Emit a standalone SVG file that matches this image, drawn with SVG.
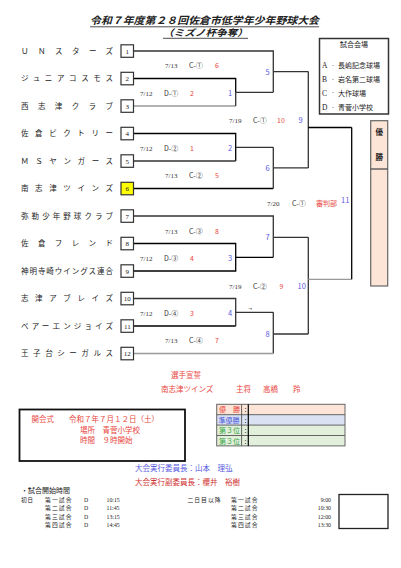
<svg xmlns="http://www.w3.org/2000/svg" width="401" height="568" viewBox="0 0 401 568">
<style>
text{font-family:"Noto Sans CJK JP","Noto Sans",sans-serif;fill:#222}
.s{font-family:"Liberation Serif","Noto Sans CJK JP",serif}
.tm{font-size:7.5px}
.bx{fill:#fff;stroke:#333;stroke-width:1.2}
.bn{font-size:7px;text-anchor:middle}
.d{font-size:7px;fill:#333}
.r{fill:#e8453c;font-size:7px}
.b{fill:#5a5ae0;font-size:7.5px}
.ln{fill:none;stroke:#333;stroke-width:1.3}
.lk{fill:none;stroke:#000;stroke-width:1.3}
.lg{fill:none;stroke:#999;stroke-width:1.3}
.ft{font-size:7.5px}
.red{fill:#e8453c}
.sc{font-size:5.8px}
</style>
<rect width="401" height="568" fill="#fff"/>
<g id="title">
<text x="90" y="23.8" font-size="10" font-weight="bold" font-style="italic" textLength="229" lengthAdjust="spacingAndGlyphs">令和７年度第２８回佐倉市低学年少年野球大会</text>
<line x1="90" y1="26.8" x2="319" y2="26.8" stroke="#222" stroke-width="0.8"/>
<text x="163" y="36.3" font-size="9" font-weight="bold" font-style="italic" textLength="85" lengthAdjust="spacingAndGlyphs">（ミズノ杯争奪）</text>
<line x1="163" y1="38.3" x2="248" y2="38.3" stroke="#222" stroke-width="0.8"/>
</g>
<g id="connectors">
<polyline class="ln" points="133.5,51 273.3,51 273.3,92.3"/>
<polyline class="lk" points="133.5,78.5 235.7,78.5 235.7,92.3"/>
<polyline class="lg" points="133.5,106 235.7,106"/>
<polyline class="ln" points="235.7,92.3 235.7,106"/>
<line class="ln" x1="235.7" y1="92.3" x2="273.3" y2="92.3"/>
<line class="ln" x1="273.3" y1="71.6" x2="308.3" y2="71.6"/>
<polyline class="lk" points="133.5,133.5 235.7,133.5 235.7,161"/>
<polyline class="ln" points="133.5,161 235.7,161"/>
<line class="ln" x1="235.7" y1="147.3" x2="273.3" y2="147.3"/>
<polyline class="lk" points="133.5,188.5 273.3,188.5"/>
<polyline class="ln" points="273.3,147.3 273.3,188.5"/>
<line class="ln" x1="273.3" y1="167.9" x2="308.3" y2="167.9"/>
<polyline class="ln" points="308.3,71.6 308.3,167.9"/>
<line class="lk" x1="308.3" y1="127.5" x2="351.7" y2="127.5"/>
<polyline class="ln" points="133.5,216 273.3,216 273.3,257.3"/>
<polyline class="lk" points="133.5,243.5 235.7,243.5 235.7,271 133.5,271"/>
<line class="lk" x1="235.7" y1="257.3" x2="273.3" y2="257.3"/>
<line class="ln" x1="273.3" y1="237.3" x2="308.3" y2="237.3"/>
<polyline class="ln" points="133.5,298.5 235.7,298.5 235.7,326"/>
<polyline class="lk" points="133.5,326 235.7,326"/>
<line class="ln" x1="235.7" y1="312.3" x2="273.3" y2="312.3"/>
<polyline class="ln" points="273.3,312.3 273.3,353.5"/>
<polyline class="lg" points="133.5,353.5 273.3,353.5"/>
<line class="ln" x1="273.3" y1="334" x2="308.3" y2="334"/>
<polyline class="ln" points="308.3,237.3 308.3,334"/>
<line class="lg" x1="308.3" y1="279.3" x2="351.7" y2="279.3"/>
<polyline class="lk" points="351.7,127.5 351.7,279.3"/>
</g>
<g id="team1"><text class="tm" x="21" y="53.7" textLength="92" lengthAdjust="spacing">ＵＮスターズ</text><rect class="bx" x="121" y="44.8" width="12.5" height="12.5"/><text class="s bn" x="127.3" y="53.5">1</text></g>
<g id="team2"><text class="tm" x="21" y="81.2" textLength="92" lengthAdjust="spacing">ジュニアコスモス</text><rect class="bx" x="121" y="72.3" width="12.5" height="12.5"/><text class="s bn" x="127.3" y="81">2</text></g>
<g id="team3"><text class="tm" x="21" y="108.7" textLength="92" lengthAdjust="spacing">西志津クラブ</text><rect class="bx" x="121" y="99.8" width="12.5" height="12.5"/><text class="s bn" x="127.3" y="108.5">3</text></g>
<g id="team4"><text class="tm" x="21" y="136.2" textLength="92" lengthAdjust="spacing">佐倉ビクトリー</text><rect class="bx" x="121" y="127.3" width="12.5" height="12.5"/><text class="s bn" x="127.3" y="136">4</text></g>
<g id="team5"><text class="tm" x="21" y="163.7" textLength="92" lengthAdjust="spacing">ＭＳヤンガース</text><rect class="bx" x="121" y="154.8" width="12.5" height="12.5"/><text class="s bn" x="127.3" y="163.5">5</text></g>
<g id="team6"><text class="tm" x="21" y="191.2" textLength="92" lengthAdjust="spacing">南志津ツインズ</text><rect class="bx" x="121" y="182.3" width="12.5" height="12.5" style="fill:#ffff00"/><text class="s bn" x="127.3" y="191">6</text></g>
<g id="team7"><text class="tm" x="21" y="218.7" textLength="92" lengthAdjust="spacing">弥勒少年野球クラブ</text><rect class="bx" x="121" y="209.8" width="12.5" height="12.5"/><text class="s bn" x="127.3" y="218.5">7</text></g>
<g id="team8"><text class="tm" x="21" y="246.2" textLength="92" lengthAdjust="spacing">佐倉フレンド</text><rect class="bx" x="121" y="237.3" width="12.5" height="12.5"/><text class="s bn" x="127.3" y="246">8</text></g>
<g id="team9"><text class="tm" x="21" y="273.7" textLength="92" lengthAdjust="spacing">神明寺崎ウイングス連合</text><rect class="bx" x="121" y="264.8" width="12.5" height="12.5"/><text class="s bn" x="127.3" y="273.5">9</text></g>
<g id="team10"><text class="tm" x="21" y="301.2" textLength="92" lengthAdjust="spacing">志津アブレイズ</text><rect class="bx" x="121" y="292.3" width="12.5" height="12.5"/><text class="s bn" x="127.3" y="301">10</text></g>
<g id="team11"><text class="tm" x="21" y="328.7" textLength="92" lengthAdjust="spacing">ベアーエンジョイズ</text><rect class="bx" x="121" y="319.8" width="12.5" height="12.5"/><text class="s bn" x="127.3" y="328.5">11</text></g>
<g id="team12"><text class="tm" x="21" y="356.2" textLength="92" lengthAdjust="spacing">王子台シーガルス</text><rect class="bx" x="121" y="347.3" width="12.5" height="12.5"/><text class="s bn" x="127.3" y="356">12</text></g>
<g id="labels">
<text class="s d" x="140" y="95.5">7/12</text><text class="d" x="164" y="95.5">D-①</text><text class="r" x="190" y="95.5">2</text><text class="b" x="228" y="95.5">1</text>
<text class="s d" x="165" y="68.2">7/13</text><text class="d" x="189" y="68.2">C-①</text><text class="r" x="215" y="68.2">6</text><text class="b" x="265.5" y="74.5">5</text>
<text class="s d" x="229" y="123.2">7/19</text><text class="d" x="253" y="123.2">C-①</text><text class="r" x="277" y="123.2">10</text><text class="b" x="298.5" y="123.2">9</text>
<text class="s d" x="140" y="150.8">7/12</text><text class="d" x="164" y="150.8">D-②</text><text class="r" x="190" y="150.8">1</text><text class="b" x="228" y="150.8">2</text>
<text class="s d" x="165" y="178.2">7/13</text><text class="d" x="189" y="178.2">C-②</text><text class="r" x="215" y="178.2">5</text><text class="b" x="265.5" y="170.8">6</text>
<text class="s d" x="267" y="205.8">7/20</text><text class="d" x="292" y="205.8">C-①</text><text class="r" x="316" y="205.8">審判部</text><text class="b" x="341" y="202.5">11</text>
<text class="s d" x="165" y="233.5">7/13</text><text class="d" x="189" y="233.5">C-③</text><text class="r" x="215" y="233.5">8</text><text class="b" x="265.5" y="240.2">7</text>
<text class="s d" x="140" y="260.8">7/12</text><text class="d" x="164" y="260.8">D-③</text><text class="r" x="190" y="260.8">4</text><text class="b" x="228" y="260.8">3</text>
<text class="s d" x="229" y="288.5">7/19</text><text class="d" x="253" y="288.5">C-②</text><text class="r" x="279.5" y="288.5">9</text><text class="b" x="297.5" y="288.5">10</text>
<text class="s d" x="140" y="315.8">7/12</text><text class="d" x="164" y="315.8">D-④</text><text class="r" x="190" y="315.8">3</text><text class="b" x="228" y="315.8">4</text>
<text x="248" y="311" font-size="4" fill="#888">→</text>
<text class="s d" x="165" y="343.2">7/13</text><text class="d" x="189" y="343.2">C-④</text><text class="r" x="215" y="343.2">7</text><text class="b" x="265.5" y="336.5">8</text>
</g>
<g id="venues">
<rect x="319.5" y="38.5" width="69" height="75.5" fill="#fff" stroke="#333" stroke-width="1.5"/>
<text x="354" y="47" font-size="7" text-anchor="middle">試合会場</text>
<text class="s" x="322" y="68" font-size="7.5">A</text><text x="331" y="67.5" font-size="4" fill="#aaa">・</text><text x="338" y="68" font-size="7">長嶋記念球場</text>
<text class="s" x="322" y="82" font-size="7.5">B</text><text x="331" y="81.5" font-size="4" fill="#aaa">・</text><text x="338" y="82" font-size="7">岩名第二球場</text>
<text class="s" x="322" y="95.5" font-size="7.5">C</text><text x="331" y="95" font-size="4" fill="#aaa">・</text><text x="338" y="95.5" font-size="7">大作球場</text>
<text class="s" x="322" y="110" font-size="7.5">D</text><text x="331" y="109.5" font-size="4" fill="#aaa">・</text><text x="338" y="110" font-size="7">青菅小学校</text>
</g>
<g id="champion">
<rect x="370.7" y="120.7" width="17" height="165.3" fill="#fce4d6" stroke="#666" stroke-width="1.2"/>
<line x1="370.7" y1="169" x2="387.7" y2="169" stroke="#444" stroke-width="1.2"/>
<text x="379.2" y="135" font-size="7.5" text-anchor="middle" fill="#e8453c" font-weight="bold">優</text>
<text x="379.2" y="160" font-size="7.5" text-anchor="middle" fill="#e8453c" font-weight="bold">勝</text>
</g>
<g id="oath">
<text class="ft red" x="171" y="378">選手宣誓</text>
<text class="ft red" x="161" y="391.7">南志津ツインズ</text>
<text class="ft red" x="236" y="391.7">主将</text>
<text class="ft red" x="263" y="391.7">高橋</text>
<text class="ft red" x="293" y="391.7">羚</text>
</g>
<g id="opening">
<rect x="19.5" y="409.5" width="165.5" height="51.5" fill="#fff" stroke="#111" stroke-width="1.8"/>
<text class="ft red" x="31.5" y="422">開会式　　令和７年７月１２日（土）</text>
<text class="ft red" x="80" y="432.7">場所　青菅小学校</text>
<text class="ft red" x="80" y="443.4">時間　９時開始</text>
</g>
<g id="results">
<rect x="216.7" y="404.3" width="128.3" height="10.4" fill="#fce4d6"/>
<rect x="216.7" y="414.7" width="128.3" height="10.4" fill="#d9e1f2"/>
<rect x="216.7" y="425.1" width="128.3" height="10.4" fill="#e2efda"/>
<rect x="216.7" y="435.5" width="128.3" height="10.4" fill="#e2efda"/>
<rect x="216.7" y="404.3" width="128.3" height="41.6" fill="none" stroke="#666" stroke-width="1"/>
<g stroke="#555" stroke-width="0.9"><line x1="216.7" y1="414.7" x2="345" y2="414.7"/><line x1="216.7" y1="425.1" x2="345" y2="425.1"/><line x1="216.7" y1="435.5" x2="345" y2="435.5"/><line x1="241.6" y1="404.3" x2="241.6" y2="445.9"/></g>
<line x1="248.3" y1="404.3" x2="248.3" y2="445.9" stroke="#000" stroke-width="1.2"/>
<text x="219" y="412.3" font-size="7" style="fill:#e8453c">優　勝</text>
<text x="218.5" y="422.7" font-size="7" style="fill:#4a5ad8">準優勝</text>
<text x="219" y="433.1" font-size="7" style="fill:#3aa84a">第３位</text>
<text x="219" y="443.5" font-size="7" style="fill:#3aa84a">第３位</text>
<text x="242.5" y="412.3" font-size="6">：</text><text x="242.5" y="422.7" font-size="6">：</text><text x="242.5" y="433.1" font-size="6">：</text><text x="242.5" y="443.5" font-size="6">：</text>
</g>
<g id="committee">
<text class="ft" x="135" y="471" style="fill:#5a5ae0">大会実行委員長：山本　理弘</text>
<text class="ft" x="135" y="485.4" style="fill:#d03030">大会実行副委員長：櫻井　裕樹</text>
</g>
<g id="schedule">
<text x="21" y="493.3" font-size="7">・試合開始時間</text>
<text class="sc" x="21" y="502" textLength="12" lengthAdjust="spacing">初日</text>
<text class="sc" x="45" y="502" textLength="26.5" lengthAdjust="spacing">第一試合</text><text class="s sc" x="84" y="502">D</text><text class="s sc" x="106.5" y="502">10:15</text>
<text class="sc" x="45" y="510.3" textLength="26.5" lengthAdjust="spacing">第二試合</text><text class="s sc" x="84" y="510.3">D</text><text class="s sc" x="106.5" y="510.3">11:45</text>
<text class="sc" x="45" y="518.6" textLength="26.5" lengthAdjust="spacing">第三試合</text><text class="s sc" x="84" y="518.6">D</text><text class="s sc" x="106.5" y="518.6">13:15</text>
<text class="sc" x="45" y="526.9" textLength="26.5" lengthAdjust="spacing">第四試合</text><text class="s sc" x="84" y="526.9">D</text><text class="s sc" x="106.5" y="526.9">14:45</text>
<text class="sc" x="187.5" y="502" textLength="33" lengthAdjust="spacing">二日目以降</text>
<text class="sc" x="231" y="502" textLength="26.5" lengthAdjust="spacing">第一試合</text><text class="s sc" x="331" y="502" text-anchor="end">9:00</text>
<text class="sc" x="231" y="510.3" textLength="26.5" lengthAdjust="spacing">第二試合</text><text class="s sc" x="331" y="510.3" text-anchor="end">10:30</text>
<text class="sc" x="231" y="518.6" textLength="26.5" lengthAdjust="spacing">第三試合</text><text class="s sc" x="331" y="518.6" text-anchor="end">12:00</text>
<text class="sc" x="231" y="526.9" textLength="26.5" lengthAdjust="spacing">第四試合</text><text class="s sc" x="331" y="526.9" text-anchor="end">13:30</text>
<rect x="339" y="494.5" width="49" height="34" fill="#fff" stroke="#222" stroke-width="1.3"/>
</g>
</svg>
